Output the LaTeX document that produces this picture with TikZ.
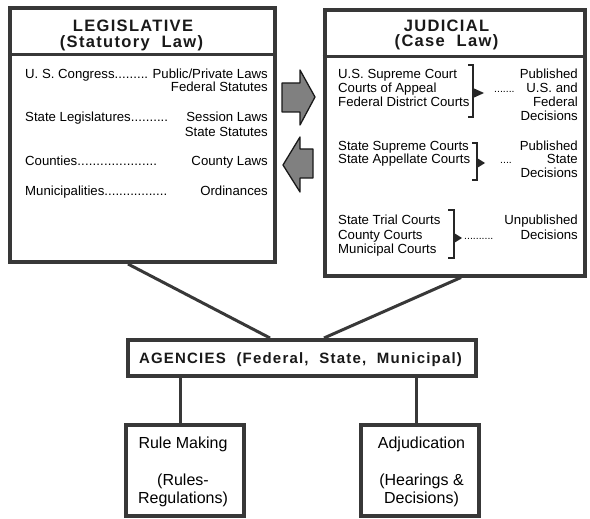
\documentclass[tikz,border=0pt]{standalone}
\usepackage{fontspec}
\setmainfont{Liberation Sans}
\newfontfamily\hdrfont[LetterSpace=8]{Liberation Sans}
\newcommand{\dotlead}{\xleaders\hbox{.}\hfill}
\begin{document}
\begin{tikzpicture}[x=1pt,y=-1pt,
  frame/.style={draw=black!78, line width=4pt, rectangle, inner sep=0pt, fill=white},
  conn/.style={draw=black!78, line width=3pt},
  divider/.style={draw=black!78, line width=3pt},
  txt/.style={inner sep=0pt, text=black, font=\frenchspacing\fontsize{13.2}{15}\selectfont},
  dts/.style={inner sep=0pt, text=black, font=\fontsize{10.5}{12}\selectfont},
  big/.style={inner sep=0pt, text=black, font=\frenchspacing\fontsize{16}{18}\selectfont},
  hdr/.style={inner sep=0pt, text=black!90, font=\hdrfont\bfseries\fontsize{16.5}{18}\selectfont},
  agt/.style={inner sep=0pt, text=black!90, font=\hdrfont\bfseries\fontsize{15}{17}\selectfont},
  brk/.style={draw=black!85, line width=1.2pt},
  arr/.style={draw=black!90, line width=1.3pt, fill=black!50, line join=round}]
\useasboundingbox (0,0) rectangle (590,519);

% boxes
\node[frame, minimum width=265pt, minimum height=254pt] (leg) at (142.5,135) {};
\node[frame, minimum width=260.5pt, minimum height=265.5pt] (jud) at (454.75,142.75) {};
\node[frame, minimum width=348pt, minimum height=36pt] (ag) at (301.5,358) {};
\node[frame, minimum width=118pt, minimum height=91pt] (rule) at (184.5,470.5) {};
\node[frame, minimum width=118.5pt, minimum height=91pt] (adj) at (419.75,470.5) {};

% header dividers
\coordinate (ldiv) at (10,55);
\coordinate (jdiv) at (330,57);
\draw[divider] (leg.west |- ldiv) -- (leg.east |- ldiv);
\draw[divider] (jud.west |- jdiv) -- (jud.east |- jdiv);

% connectors
\draw[conn] ([xshift=120pt]leg.south west) -- ([xshift=144.5pt]ag.north west);
\draw[conn] ([xshift=138.5pt]jud.south west) -- ([xshift=198.5pt]ag.north west);
\draw[conn] ([xshift=54.5pt]ag.south west) -- ([xshift=56.5pt]rule.north west);
\draw[conn] ([xshift=290.5pt]ag.south west) -- ([xshift=57.5pt]adj.north west);

% arrows between the branches
\draw[arr] (282,83) -- (300,83) -- (300,70) -- (315,97) -- (300,125) -- (300,112) -- (282,112) -- cycle;
\draw[arr] (313,149) -- (300,149) -- (300,137) -- (283,165) -- (300,192) -- (300,178) -- (313,178) -- cycle;

% legislative
\node[hdr, anchor=base] (legt) at (133,32) {LEGISLATIVE};
\node[hdr, anchor=base] (legs) at (131.5,48) {(Statutory\ \ Law)};
\node[txt, anchor=base west] (l1) at (25,79) {\makebox[123pt][l]{U. S. Congress\dotlead}};
\node[txt, anchor=base east] (r1) at (268,79) {Public/Private Laws};
\node[txt, anchor=base east] (r1b) at (268,92) {Federal Statutes};
\node[txt, anchor=base west] (l2) at (25,122) {\makebox[143pt][l]{State Legislatures\dotlead}};
\node[txt, anchor=base east] (r2) at (268,122) {Session Laws};
\node[txt, anchor=base east] (r2b) at (268,136) {State Statutes};
\node[txt, anchor=base west] (l3) at (25,166) {\makebox[132pt][l]{Counties\dotlead}};
\node[txt, anchor=base east] (r3) at (268,166) {County Laws};
\node[txt, anchor=base west] (l4) at (25,195) {\makebox[142pt][l]{Municipalities\dotlead}};
\node[txt, anchor=base east] (r4) at (268,195) {Ordinances};

% judicial
\node[hdr, anchor=base] (judt) at (446.5,32) {JUDICIAL};
\node[hdr, anchor=base] (judc) at (446.5,47) {(Case\ \ Law)};

\node[txt, anchor=base west] (j1a) at (338,79) {U.S. Supreme Court};
\node[txt, anchor=base west] (j1b) at (338,93) {Courts of Appeal};
\node[txt, anchor=base west] (j1c) at (338,107) {Federal District Courts};
\draw[brk] (468,65) -- (473,65) -- (473,117) -- (468,117);
\fill[black!85] (473,88) -- (484,93) -- (473,98) -- cycle;
\node[dts, anchor=base west] (jd1) at (494,93) {.......};
\node[txt, anchor=base east] (p1a) at (578,79) {Published};
\node[txt, anchor=base east] (p1b) at (578,93) {U.S. and};
\node[txt, anchor=base east] (p1c) at (578,107) {Federal};
\node[txt, anchor=base east] (p1d) at (578,121) {Decisions};

\node[txt, anchor=base west] (j2a) at (338,150) {State Supreme Courts};
\node[txt, anchor=base west] (j2b) at (338,164) {State Appellate Courts};
\draw[brk] (472,143) -- (477,143) -- (477,180) -- (472,180);
\fill[black!85] (477,158) -- (485,163) -- (477,168) -- cycle;
\node[dts, anchor=base west] (jd2) at (500,164) {....};
\node[txt, anchor=base east] (p2a) at (578,150) {Published};
\node[txt, anchor=base east] (p2b) at (578,164) {State};
\node[txt, anchor=base east] (p2c) at (578,178) {Decisions};

\node[txt, anchor=base west] (j3a) at (338,225) {State Trial Courts};
\node[txt, anchor=base west] (j3b) at (338,239) {County Courts};
\node[txt, anchor=base west] (j3c) at (338,253) {Municipal Courts};
\draw[brk] (448,210) -- (454,210) -- (454,258) -- (448,258);
\fill[black!85] (454,233) -- (462,238) -- (454,243) -- cycle;
\node[dts, anchor=base west] (jd3) at (464,239) {..........};
\node[txt, anchor=base east] (p3a) at (578,225) {Unpublished};
\node[txt, anchor=base east] (p3b) at (578,239) {Decisions};

% agencies
\node[agt, anchor=base] (agtext) at (300.5,363) {AGENCIES\ \ (Federal,\ \ State,\ \ Municipal)};

% bottom boxes
\node[big, anchor=base] (rm1) at (183,448) {Rule Making};
\node[big, anchor=base] (rm2) at (183,485) {(Rules-};
\node[big, anchor=base] (rm3) at (183,503) {Regulations)};
\node[big, anchor=base] (ad1) at (421.5,448) {Adjudication};
\node[big, anchor=base] (ad2) at (421.5,485) {(Hearings \&};
\node[big, anchor=base] (ad3) at (421.5,503) {Decisions)};
\end{tikzpicture}
\end{document}
